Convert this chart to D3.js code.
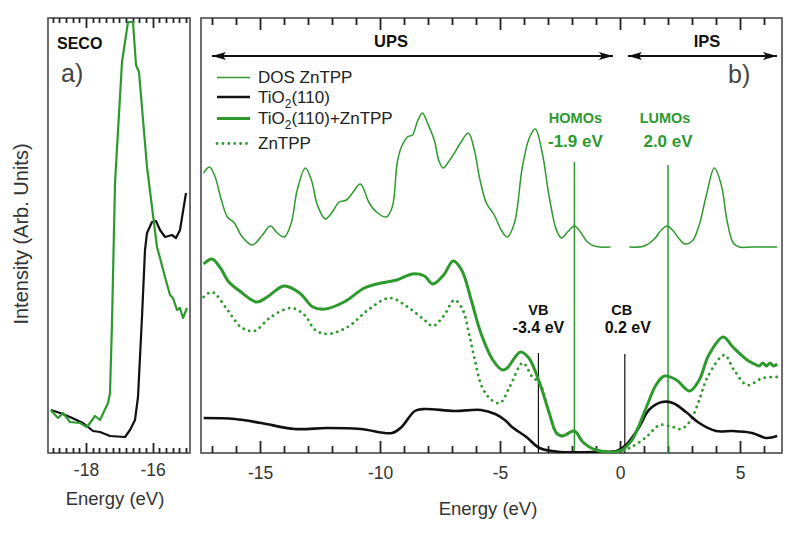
<!DOCTYPE html>
<html>
<head>
<meta charset="utf-8">
<script src="https://cdn.jsdelivr.net/npm/d3@7"></script>
<style>
  html, body { margin: 0; padding: 0; background: #fff; }
  svg { display: block; font-family: "Liberation Sans", Arial, sans-serif; }
</style>
</head>
<body>
<svg id="chart" width="800" height="537"></svg>
<script>
// ---------------- DATA (energy in eV, intensity in arbitrary units) ----------------
// Panel a) SECO
const secoComposite = [[-19.06,43],[-18.84,35],[-18.69,40],[-18.48,31],[-18.18,30],[-17.97,26],[-17.73,37],[-17.58,33],[-17.34,50],[-17.28,60],[-17.22,130],[-17.13,270],[-16.92,391],[-16.74,431],[-16.59,431],[-16.5,388],[-16.41,381],[-16.17,286],[-15.87,206],[-15.78,195],[-15.63,176],[-15.48,158],[-15.39,155],[-15.27,143],[-15.18,145],[-15.09,135],[-14.97,145]];
const secoTiO2 = [[-19.05,43],[-18.78,40],[-18.48,36],[-18.09,30],[-17.79,22],[-17.58,21],[-17.28,17],[-16.83,16],[-16.68,23],[-16.53,33],[-16.44,56],[-16.32,136],[-16.23,203],[-16.17,220],[-16.02,231],[-15.9,232],[-15.78,223],[-15.63,216],[-15.42,218],[-15.3,215],[-15.18,223],[-15.0,260]];

// Panel b) DOS ZnTPP (thin), occupied (UPS) and unoccupied (IPS) parts
const dosUPS = [[-17.35,280],[-17.11,286],[-16.9,278],[-16.61,253],[-16.36,236],[-16.07,230],[-15.74,216],[-15.32,208],[-14.9,218],[-14.57,227],[-14.28,220],[-13.99,216],[-13.7,230],[-13.45,263],[-13.11,285],[-12.86,273],[-12.61,248],[-12.28,234],[-11.99,241],[-11.7,251],[-11.4,253],[-11.15,260],[-10.82,269],[-10.45,250],[-10.15,241],[-9.74,236],[-9.49,246],[-9.28,291],[-9.11,306],[-8.86,316],[-8.65,318],[-8.45,331],[-8.24,340],[-7.99,328],[-7.74,313],[-7.53,291],[-7.36,285],[-7.15,291],[-6.9,300],[-6.65,310],[-6.32,320],[-6.07,303],[-5.86,276],[-5.57,250],[-5.24,238],[-4.95,223],[-4.7,216],[-4.4,230],[-4.07,286],[-3.78,315],[-3.53,324],[-3.24,300],[-2.95,256],[-2.65,223],[-2.44,215],[-2.15,222],[-1.9,227],[-1.65,221],[-1.36,211],[-1.07,207],[-0.86,206],[-0.4,206]];
const dosIPS = [[0.39,206],[1.01,207],[1.43,214],[1.72,223],[1.97,227],[2.22,222],[2.47,214],[2.7,209],[3.01,212],[3.3,228],[3.6,258],[3.93,285],[4.22,268],[4.47,231],[4.72,210],[4.97,206],[5.5,206],[6.55,206]];

// TiO2(110)
const tio2 = [[-17.35,35],[-16.05,34],[-14.95,30],[-13.55,24],[-12.2,25],[-10.8,24],[-9.5,20],[-9.1,26],[-8.55,42],[-8.15,44],[-6.9,42],[-5.8,43],[-5.2,39],[-4.8,33],[-4.5,26],[-3.9,16],[-3.35,5],[-2.5,1],[-1.15,1],[-0.15,2],[0.25,8],[0.8,26],[1.2,43],[1.75,51],[2.2,50],[2.75,41],[3.3,30],[4.0,22],[4.7,22],[5.5,20],[6.1,15],[6.55,17]];

// TiO2(110)+ZnTPP
const tio2ZnTPP = [[-17.35,189],[-17.0,194],[-16.65,185],[-16.3,171],[-15.9,163],[-15.15,151],[-14.7,156],[-14.0,167],[-13.35,160],[-12.8,146],[-12.3,144],[-11.5,151],[-10.65,165],[-9.95,170],[-9.3,173],[-8.65,179],[-8.15,177],[-7.8,169],[-7.35,178],[-6.95,192],[-6.6,183],[-6.2,153],[-5.8,120],[-5.3,93],[-4.9,83],[-4.7,85],[-4.15,101],[-3.8,95],[-3.35,70],[-2.95,40],[-2.65,20],[-2.4,17],[-1.9,22],[-1.55,11],[-1.0,3],[0.0,2],[0.5,13],[1.1,46],[1.5,68],[1.85,77],[2.35,73],[2.9,62],[3.3,73],[3.7,98],[4.3,116],[4.7,106],[5.3,93],[5.6,89],[5.8,87],[5.95,90],[6.1,87],[6.25,90],[6.4,87],[6.55,89]];

// ZnTPP
const znTPP = [[-17.35,156],[-17.0,161],[-16.35,143],[-15.8,126],[-15.25,122],[-14.55,136],[-13.7,145],[-13.15,138],[-12.7,123],[-12.2,119],[-11.35,126],[-10.5,143],[-9.6,155],[-8.85,146],[-8.15,133],[-7.8,127],[-7.35,137],[-6.9,153],[-6.55,143],[-6.3,120],[-6.05,93],[-5.75,66],[-5.35,53],[-5.0,50],[-4.6,66],[-4.05,90],[-3.65,76],[-3.35,70],[-2.95,40],[-2.65,20],[-2.4,17],[-1.9,22],[-1.55,11],[-1.0,3],[0.0,2],[0.4,5],[1.1,16],[1.65,28],[2.2,26],[2.55,24],[2.95,33],[3.3,53],[3.65,76],[4.35,98],[4.75,83],[5.3,68],[5.95,75],[6.55,76]];

// Level markers: [energy, top intensity]
const homoLumo = [[-1.9,291],[2.0,288]];
const bandEdges = [[-3.4,100],[0.2,99]];
const levelLabels = [
  {name:"HOMOs", value:"-1.9 eV", e:-1.9, colour:"green"},
  {name:"LUMOs", value:"2.0 eV", e:2.0, colour:"green"},
  {name:"VB", value:"-3.4 eV", e:-3.4, colour:"black"},
  {name:"CB", value:"0.2 eV", e:0.2, colour:"black"}
];
const ticksA = [-18, -16];
const ticksB = [-15, -10, -5, 0, 5];
const legendLabels = ["DOS ZnTPP", "TiO2(110)", "TiO2(110)+ZnTPP", "ZnTPP"];

// ---------------- LAYOUT ----------------
const GREEN = "#2e9a2e";
const yTop = 18, yBottom = 453;
const svg = d3.select("#chart");

const xA = d3.scaleLinear().domain([-19.14, -14.88]).range([48, 190]);
const xB = d3.scaleLinear().domain([-17.46, 6.75]).range([201, 782]);
const y = d3.scaleLinear().domain([0, 435]).range([yBottom, yTop]);

const defs = svg.append("defs");
defs.append("clipPath").attr("id","clipA").append("rect").attr("x",48).attr("y",yTop).attr("width",142).attr("height",yBottom-yTop);
defs.append("clipPath").attr("id","clipB").append("rect").attr("x",201).attr("y",yTop).attr("width",581).attr("height",yBottom-yTop);
["arrowEnd","arrowStart"].forEach((id,i)=>{
  defs.append("marker").attr("id",id).attr("viewBox","0 0 14 8").attr("refX", i===0?14:0).attr("refY",4)
    .attr("markerWidth",14).attr("markerHeight",8).attr("markerUnits","userSpaceOnUse").attr("orient","auto")
    .append("path").attr("d", i===0 ? "M0,0 L14,4 L0,8 L3,4 Z" : "M14,0 L0,4 L14,8 L11,4 Z").attr("fill","#111");
});

// Frames
svg.append("rect").attr("x",48).attr("y",yTop).attr("width",142).attr("height",yBottom-yTop)
  .attr("fill","none").attr("stroke","#4a4a4a").attr("stroke-width",1.6);
svg.append("rect").attr("x",201).attr("y",yTop).attr("width",581).attr("height",yBottom-yTop)
  .attr("fill","none").attr("stroke","#4a4a4a").attr("stroke-width",1.6);

function axes(x, minorStep, majors, majorLen, minorLen, pad, domainFrom, domainTo) {
  const n = Math.round((domainTo - domainFrom) / minorStep);
  const all = d3.range(0, n + 1).map(i => +(domainFrom + i * minorStep).toFixed(2));
  const g = svg.append("g");
  const ax = g.append("g").attr("transform",`translate(0,${yBottom})`)
    .call(d3.axisBottom(x).tickValues(majors).tickSize(0).tickPadding(pad).tickFormat(d => String(d)));
  ax.select(".domain").remove();
  ax.selectAll("text").attr("font-size",17.5).attr("fill","#333").attr("font-family","Liberation Sans, Arial, sans-serif");
  const isMajor = v => majors.some(m => Math.abs(m - v) < 1e-6);
  all.forEach(v => {
    const px = Math.round(x(v)) + 0.5;
    const L = isMajor(v) ? majorLen : minorLen;
    g.append("rect").attr("x", px - 0.9).attr("y", yBottom - L).attr("width", 1.8).attr("height", L).attr("fill", "#222");
    g.append("rect").attr("x", px - 0.9).attr("y", yTop).attr("width", 1.8).attr("height", L).attr("fill", "#222");
  });
  return g;
}
axes(xA, 0.2, ticksA, 10, 5, 11, -19.0, -15.0);
axes(xB, 1, ticksB, 12, 7, 14, -17, 6);

// ---------------- Panel a ----------------
const lineA = d3.line().x(d => xA(d[0])).y(d => y(d[1])).curve(d3.curveLinear);
const gA = svg.append("g").attr("clip-path","url(#clipA)");
gA.append("path").attr("d", lineA(secoTiO2)).attr("fill","none").attr("stroke","#111").attr("stroke-width",2.2).attr("stroke-linejoin","round");
gA.append("path").attr("d", lineA(secoComposite)).attr("fill","none").attr("stroke",GREEN).attr("stroke-width",2.2).attr("stroke-linejoin","round");

svg.append("text").attr("x",57).attr("y",48.5).attr("font-size",16).attr("font-weight","bold").attr("fill","#111").text("SECO");
svg.append("text").attr("x",61).attr("y",82).attr("font-size",25).attr("fill","#444").text("a)");

// ---------------- Panel b ----------------
const lineB = d3.line().x(d => xB(d[0])).y(d => y(d[1])).curve(d3.curveCatmullRom.alpha(0.5));
const gB = svg.append("g").attr("clip-path","url(#clipB)");

// level lines
gB.selectAll("line.hl").data(homoLumo).join("line")
  .attr("x1",d=>xB(d[0])).attr("x2",d=>xB(d[0])).attr("y1",d=>y(d[1])).attr("y2",yBottom)
  .attr("stroke",GREEN).attr("stroke-width",1.5);
gB.selectAll("line.be").data(bandEdges).join("line")
  .attr("x1",d=>xB(d[0])).attr("x2",d=>xB(d[0])).attr("y1",d=>y(d[1])).attr("y2",yBottom)
  .attr("stroke","#111").attr("stroke-width",1.2);

gB.append("path").attr("d", lineB(znTPP)).attr("fill","none").attr("stroke",GREEN).attr("stroke-width",2.8)
  .attr("stroke-linecap","round").attr("stroke-dasharray","0.1 5.8");
gB.append("path").attr("d", lineB(tio2)).attr("fill","none").attr("stroke","#111").attr("stroke-width",2.6);
gB.append("path").attr("d", lineB(tio2ZnTPP)).attr("fill","none").attr("stroke",GREEN).attr("stroke-width",3);
gB.append("path").attr("d", lineB(dosUPS)).attr("fill","none").attr("stroke",GREEN).attr("stroke-width",1.5);
gB.append("path").attr("d", lineB(dosIPS)).attr("fill","none").attr("stroke",GREEN).attr("stroke-width",1.5);

// level labels
const labelY = {green:[122.5,146.5], black:[315,333]};
const labelDx = {"HOMOs":1,"LUMOs":-3,"VB":0,"CB":-3};
levelLabels.forEach(l => {
  const c = l.colour === "green" ? GREEN : "#111";
  const cx = xB(l.e) + labelDx[l.name];
  svg.append("text").attr("x",cx).attr("y",labelY[l.colour][0]).attr("text-anchor","middle")
    .attr("font-size",14.5).attr("font-weight","bold").attr("fill",c).text(l.name);
  svg.append("text").attr("x",cx + (l.name==="CB"?6:(l.name==="LUMOs"?3:0))).attr("y",labelY[l.colour][1]).attr("text-anchor","middle")
    .attr("font-size",l.colour==="green"?17:16).attr("font-weight","bold").attr("fill",c).text(l.value);
});

// UPS / IPS arrows
svg.append("line").attr("x1",212).attr("x2",613).attr("y1",56).attr("y2",56).attr("stroke","#111").attr("stroke-width",2)
  .attr("marker-start","url(#arrowStart)").attr("marker-end","url(#arrowEnd)");
svg.append("line").attr("x1",628).attr("x2",777).attr("y1",56).attr("y2",56).attr("stroke","#111").attr("stroke-width",2)
  .attr("marker-start","url(#arrowStart)").attr("marker-end","url(#arrowEnd)");
svg.append("text").attr("x",391).attr("y",46.5).attr("text-anchor","middle").attr("font-size",16.5).attr("font-weight","bold").attr("fill","#111").text("UPS");
svg.append("text").attr("x",707).attr("y",46.5).attr("text-anchor","middle").attr("font-size",16.5).attr("font-weight","bold").attr("fill","#111").text("IPS");
svg.append("text").attr("x",728).attr("y",83).attr("font-size",25).attr("fill","#444").text("b)");

// Legend
const legendStyles = [
  {stroke:GREEN, w:1.5, dash:null},
  {stroke:"#111", w:2.6, dash:null},
  {stroke:GREEN, w:3, dash:null},
  {stroke:GREEN, w:2.8, dash:"0.1 5.8"}
];
const legendRowY = [77.5, 97, 118.5, 143.5];
legendLabels.forEach((lab, i) => {
  const s = legendStyles[i];
  const ln = svg.append("line").attr("x1",217).attr("x2",250).attr("y1",legendRowY[i]).attr("y2",legendRowY[i])
    .attr("stroke",s.stroke).attr("stroke-width",s.w);
  if (s.dash) ln.attr("stroke-dasharray",s.dash).attr("stroke-linecap","round");
  const t = svg.append("text").attr("x",258).attr("y",legendRowY[i]+5.8).attr("font-size",17).attr("fill","#222");
  const m = lab.match(/^(.*?O)2(.*)$/);
  if (m) {
    t.append("tspan").text(m[1]);
    t.append("tspan").attr("font-size",12).attr("dy",5).text("2");
    t.append("tspan").attr("dy",-5).text(m[2]);
  } else t.text(lab);
});

// Axis titles
svg.append("text").attr("x",115).attr("y",505).attr("text-anchor","middle").attr("font-size",18.5).attr("fill","#333").text("Energy (eV)");
svg.append("text").attr("x",488).attr("y",515).attr("text-anchor","middle").attr("font-size",18.5).attr("fill","#333").text("Energy (eV)");
svg.append("text").attr("transform","translate(27.5,234) rotate(-90)").attr("text-anchor","middle").attr("font-size",20).attr("fill","#333").text("Intensity (Arb. Units)");
</script>
</body>
</html>
